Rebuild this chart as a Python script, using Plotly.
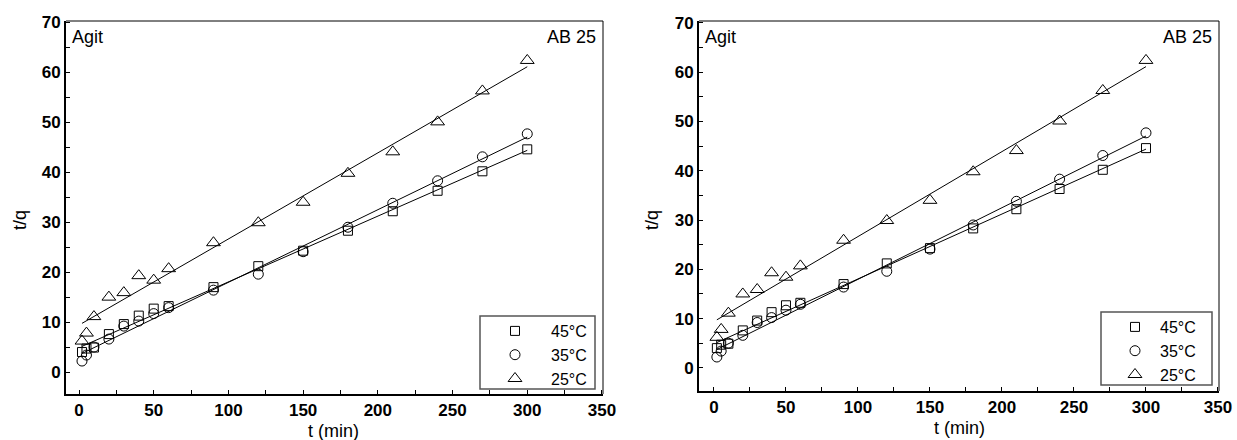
import numpy as np
import plotly.graph_objects as go

# ---- data ----
t_min = [2, 5, 10, 20, 30, 40, 50, 60, 90, 120, 150, 180, 210, 240, 270, 300]
tq_45C = [4.0, 4.7, 4.9, 7.6, 9.6, 11.3, 12.7, 13.2, 17.0, 21.2, 24.3, 28.3, 32.2, 36.3, 40.2, 44.6]
tq_35C = [2.2, 3.4, 5.0, 6.6, 9.2, 10.2, 11.7, 12.9, 16.4, 19.6, 24.1, 29.0, 33.8, 38.3, 43.1, 47.7]
tq_25C = [6.2, 7.8, 11.1, 15.0, 15.9, 19.3, 18.4, 20.7, 25.9, 29.9, 34.0, 39.8, 44.1, 50.1, 56.3, 62.4]
series_names = ["45°C", "35°C", "25°C"]
x_ticks = [0, 50, 100, 150, 200, 250, 300, 350]
y_ticks = [0, 10, 20, 30, 40, 50, 60, 70]

FONT = "Liberation Sans, Arial, sans-serif"
W, H = 1237, 440


def px(x):
    return x / W


def py(y):
    return 1 - y / H


series = [tq_45C, tq_35C, tq_25C]
symbols = ["square-open", "circle-open", "triangle-up-open"]
sizes = [9, 10, 12]

panels = [
    dict(l=66, r=603, t=21, b=394, xr=[-8.7, 350.7], yr=[-4.4, 70.3],
         box=(480, 595, 316, 389), leg_x=479, leg_y=314, leg_iw=62, leg_fs=16),
    dict(l=699, r=1219, t=21, b=391, xr=[-10.4, 350.7], yr=[-4.7, 70.4],
         box=(1101, 1212, 312, 385), leg_x=1110, leg_y=310, leg_iw=40, leg_fs=16),
]

fig = go.Figure()
tarr = np.array(t_min, dtype=float)

for pi, p in enumerate(panels):
    xa = "x" if pi == 0 else "x2"
    ya = "y" if pi == 0 else "y2"
    lg = "legend" if pi == 0 else "legend2"
    for si, vals in enumerate(series):
        slope, icpt = np.polyfit(tarr, np.array(vals), 1)
        fig.add_trace(go.Scatter(
            x=t_min, y=list(icpt + slope * tarr), mode="lines",
            line=dict(color="black", width=1), xaxis=xa, yaxis=ya,
            showlegend=False, hoverinfo="skip"))
    for si, (vals, name) in enumerate(zip(series, series_names)):
        fig.add_trace(go.Scatter(
            x=t_min, y=vals, mode="markers", name=name,
            marker=dict(symbol=symbols[si], size=sizes[si], color="black",
                        line=dict(color="black", width=1)),
            xaxis=xa, yaxis=ya, legend=lg, showlegend=True))


def ax_common():
    return dict(
        showgrid=False, zeroline=False, showline=True, linecolor="black", linewidth=2,
        automargin=False, ticks="inside", ticklen=4, tickcolor="black", tickwidth=1,
        tickfont=dict(family=FONT, size=17, color="black", weight="bold"),
        minor=dict(ticks="inside", ticklen=4, tickcolor="black", tickwidth=1),
    )


layout = dict(template="none", width=W, height=H, margin=dict(l=0, r=0, t=0, b=0, autoexpand=False),
              plot_bgcolor="white", paper_bgcolor="white", showlegend=True,
              font=dict(family=FONT, color="black"))

annotations = []
shapes = []
for pi, p in enumerate(panels):
    sx = "" if pi == 0 else "2"
    xd = [px(p["l"]), px(p["r"])]
    yd = [py(p["b"]), py(p["t"])]
    xa = ax_common()
    xa.update(domain=xd, range=p["xr"], tickvals=x_ticks, anchor="y" + sx)
    xa["minor"].update(dtick=25, tick0=0)
    ya = ax_common()
    ya.update(domain=yd, range=p["yr"], tickvals=y_ticks, anchor="x" + sx)
    ya["minor"].update(dtick=5, tick0=0)
    layout["xaxis" + sx] = xa
    layout["yaxis" + sx] = ya
    shapes.append(dict(type="line", xref="paper", yref="paper", x0=xd[0], x1=xd[1], y0=yd[1], y1=yd[1],
                       line=dict(color="black", width=1)))
    shapes.append(dict(type="line", xref="paper", yref="paper", x0=xd[1], x1=xd[1], y0=yd[0], y1=yd[1],
                       line=dict(color="black", width=1)))
    bx0, bx1, by0, by1 = p["box"]
    shapes.append(dict(type="rect", xref="paper", yref="paper",
                       x0=px(bx0), x1=px(bx1), y0=py(by1), y1=py(by0),
                       line=dict(color="#555555", width=1.5), fillcolor="rgba(0,0,0,0)"))
    lname = "legend" if pi == 0 else "legend2"
    layout[lname] = dict(x=px(p["leg_x"]), y=py(p["leg_y"]), xanchor="left", yanchor="top",
                         xref="paper", yref="paper", bgcolor="rgba(0,0,0,0)", borderwidth=0,
                         font=dict(family=FONT, size=p["leg_fs"], color="black"),
                         itemwidth=p["leg_iw"], tracegroupgap=0)
    annotations.append(dict(text="Agit", xref="paper", yref="paper", x=px(p["l"] + 4), y=py(37),
                            xanchor="left", yanchor="middle", showarrow=False,
                            font=dict(family=FONT, size=18, color="black")))
    annotations.append(dict(text="AB 25", xref="paper", yref="paper", x=px(p["r"] - 5), y=py(37),
                            xanchor="right", yanchor="middle", showarrow=False,
                            font=dict(family=FONT, size=18, color="black")))
    tx = 333 if pi == 0 else 960
    ty = 431 if pi == 0 else 428
    annotations.append(dict(text="t (min)", xref="paper", yref="paper", x=px(tx), y=py(ty),
                            xanchor="center", yanchor="middle", showarrow=False,
                            font=dict(family=FONT, size=18, color="black")))
    qx = 20 if pi == 0 else 652
    annotations.append(dict(text="t/q", xref="paper", yref="paper", x=px(qx), y=py(220),
                            xanchor="center", yanchor="middle", showarrow=False, textangle=-90,
                            font=dict(family=FONT, size=18, color="black")))

layout["annotations"] = annotations
layout["shapes"] = shapes
fig.update_layout(**layout)
fig.write_html("out.html", config={"displayModeBar": False},
               post_script="document.body.style.margin='0';document.body.style.overflow='hidden';")
